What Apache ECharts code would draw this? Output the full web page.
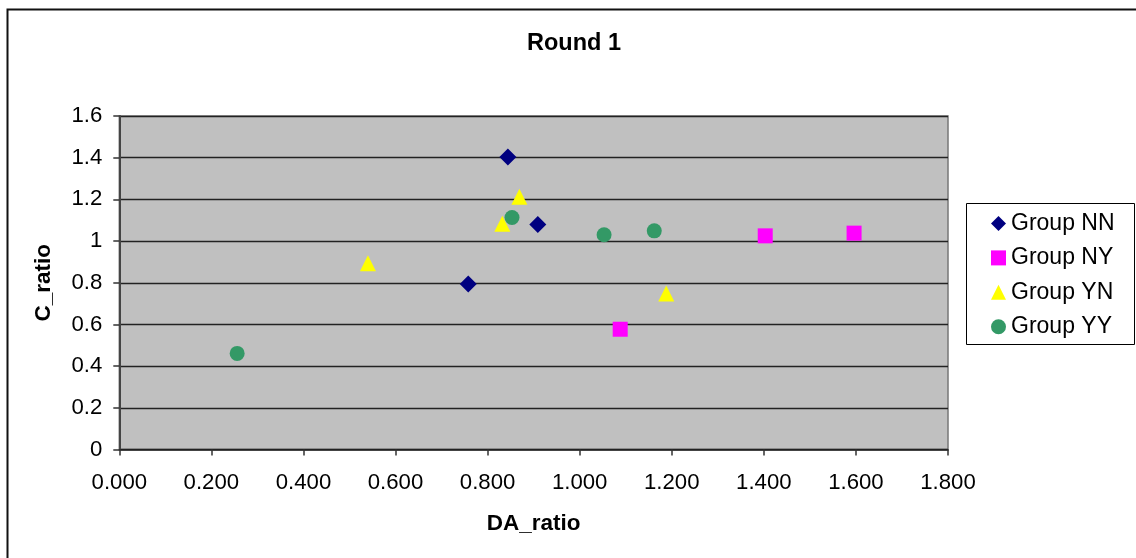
<!DOCTYPE html>
<html>
<head>
<meta charset="utf-8">
<script src="https://cdn.jsdelivr.net/npm/echarts@6/dist/echarts.min.js"></script>
<style>
  html, body { margin: 0; padding: 0; background: #fff; }
  #chart { width: 1136px; height: 558px; }
</style>
</head>
<body>
<div id="chart"></div>
<script>
// values
const groupNames = ["Group NN", "Group NY", "Group YN", "Group YY"];
const nnX = [0.844, 0.909, 0.758];
const nnY = [1.403, 1.080, 0.794];
const nyX = [1.088, 1.403, 1.596];
const nyY = [0.577, 1.025, 1.038];
const ynX = [0.540, 0.869, 0.832, 1.188];
const ynY = [0.894, 1.212, 1.083, 0.748];
const yyX = [0.256, 0.853, 1.053, 1.162];
const yyY = [0.461, 1.113, 1.030, 1.049];
const xTickLabels = ["0.000", "0.200", "0.400", "0.600", "0.800", "1.000", "1.200", "1.400", "1.600", "1.800"];
const yTickLabels = ["0", "0.2", "0.4", "0.6", "0.8", "1", "1.2", "1.4", "1.6"];

const FONT = "'Liberation Sans', Arial, sans-serif";
const COLORS = ["#000080", "#FF00FF", "#FFFF00", "#339966"];
const SYMBOLS = ["diamond", "rect", "triangle", "circle"];
const SIZES = [17, 15, 16, 15];

const pairs = (xs, ys) => xs.map((x, i) => [x, ys[i]]);
const seriesData = [pairs(nnX, nnY), pairs(nyX, nyY), pairs(ynX, ynY), pairs(yyX, yyY)];

const chart = echarts.init(document.getElementById("chart"));

chart.setOption({
  animation: false,
  backgroundColor: "#fff",
  textStyle: { fontFamily: FONT },
  title: {
    text: "Round 1",
    left: 569,
    top: 27,
    textAlign: "center",
    textStyle: { fontFamily: FONT, fontSize: 23.5, fontWeight: "bold", color: "#000" },
  },
  graphic: [
    {
      type: "rect",
      shape: { x: 7.5, y: 9.5, width: 1200, height: 600 },
      style: { fill: "none", stroke: "#111", lineWidth: 2 },
      silent: true,
    },
    {
      type: "rect",
      shape: { x: 966.5, y: 203.5, width: 168, height: 141 },
      style: { fill: "#fff", stroke: "#000", lineWidth: 1 },
      silent: true,
      z: 0,
    },
  ],
  legend: {
    orient: "vertical",
    left: 986,
    top: 207,
    itemWidth: 15,
    itemHeight: 15,
    itemGap: 11.4,
    z: 10,
    textStyle: { fontFamily: FONT, fontSize: 23, color: "#000", lineHeight: 23 },
    data: groupNames.map((n, i) => ({ name: n, icon: SYMBOLS[i] })),
  },
  grid: {
    left: 119.3,
    right: 188,
    top: 116,
    bottom: 108.5,
    show: true,
    backgroundColor: "#C0C0C0",
    borderColor: "#777",
    borderWidth: 1.5,
  },
  xAxis: {
    type: "value",
    min: 0,
    max: 1.8,
    interval: 0.2,
    name: "DA_ratio",
    nameLocation: "middle",
    nameGap: 63,
    nameTextStyle: { fontFamily: FONT, fontSize: 22.5, fontWeight: "bold", color: "#000" },
    axisLine: { show: true, onZero: false, lineStyle: { color: "#222", width: 1.5 } },
    axisTick: { show: true, length: 6, lineStyle: { color: "#333", width: 1.5 } },
    axisLabel: {
      margin: 22,
      fontFamily: FONT,
      fontSize: 22.2,
      color: "#000",
      formatter: (v) => xTickLabels[Math.round(v / 0.2)],
    },
    splitLine: { show: false },
  },
  yAxis: {
    type: "value",
    min: 0,
    max: 1.6,
    interval: 0.2,
    name: "C_ratio",
    nameLocation: "middle",
    nameGap: 64,
    nameTextStyle: { fontFamily: FONT, fontSize: 22.5, fontWeight: "bold", color: "#000" },
    axisLine: { show: true, onZero: false, lineStyle: { color: "#444", width: 2 } },
    axisTick: { show: true, length: 6, lineStyle: { color: "#333", width: 1.5 } },
    axisLabel: {
      margin: 17,
      fontFamily: FONT,
      fontSize: 22.2,
      color: "#000",
      formatter: (v) => yTickLabels[Math.round(v / 0.2)],
    },
    splitLine: { show: true, lineStyle: { color: "#222", width: 1.3 } },
  },
  series: groupNames.map((name, i) => ({
    name,
    type: "scatter",
    symbol: SYMBOLS[i],
    symbolSize: SIZES[i],
    itemStyle: { color: COLORS[i], opacity: 1 },
    data: seriesData[i],
  })),
});
</script>
</body>
</html>
